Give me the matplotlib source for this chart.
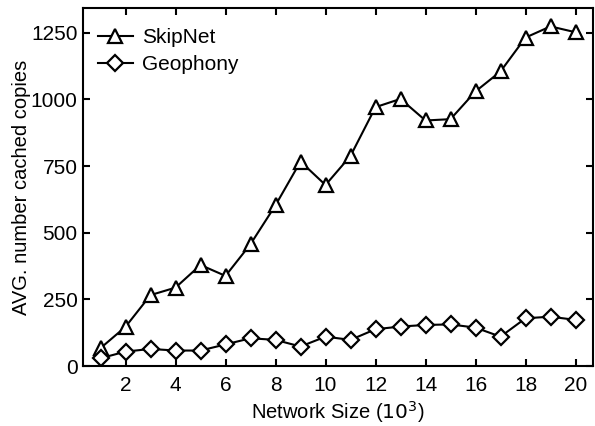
import matplotlib.pyplot as plt

plt.rcParams["font.family"] = ["Liberation Sans", "DejaVu Sans"]

network_size = list(range(1, 21))
skipnet = [67, 147, 266, 294, 379, 338, 457, 603, 767, 679,
           788, 971, 1002, 921, 926, 1030, 1105, 1232, 1274, 1252]
geophony = [29, 54, 64, 58, 58, 81, 104, 98, 73, 110,
            98, 138, 148, 154, 156, 144, 110, 179, 185, 173]
xticks = [2, 4, 6, 8, 10, 12, 14, 16, 18, 20]
yticks = [0, 250, 500, 750, 1000, 1250]

fig = plt.figure(figsize=(5.95, 4.26), dpi=100)
ax = fig.add_axes([83 / 595, 60 / 426, 510 / 595, 358 / 426])

style = dict(color="black", lw=1.5, markerfacecolor="white",
             markeredgecolor="black", markeredgewidth=1.6)
ax.plot(network_size, skipnet, marker="^", markersize=10, label="SkipNet", **style)
ax.plot(network_size, geophony, marker="D", markersize=8, label="Geophony", **style)

ax.set_xlim(0.3, 20.7)
ax.set_ylim(0, 1343)
ax.set_xticks(xticks)
ax.set_yticks(yticks)
ax.tick_params(direction="in", length=5, width=1.5, labelsize=15,
               top=True, right=True)
ax.tick_params(axis="y", pad=4)
ax.tick_params(axis="x", pad=7)
for s in ax.spines.values():
    s.set_linewidth(1.5)

ax.set_xlabel("Network Size ($10^3$)", fontsize=14.5, labelpad=3)
ax.set_ylabel("AVG. number cached copies", fontsize=14.5, labelpad=0)

ax.legend(loc="upper left", bbox_to_anchor=(0.0, 0.985), frameon=False,
          fontsize=15, handlelength=1.7, handletextpad=0.45,
          labelspacing=0.4, borderaxespad=0.3)

fig.savefig("out.png", dpi=100)
